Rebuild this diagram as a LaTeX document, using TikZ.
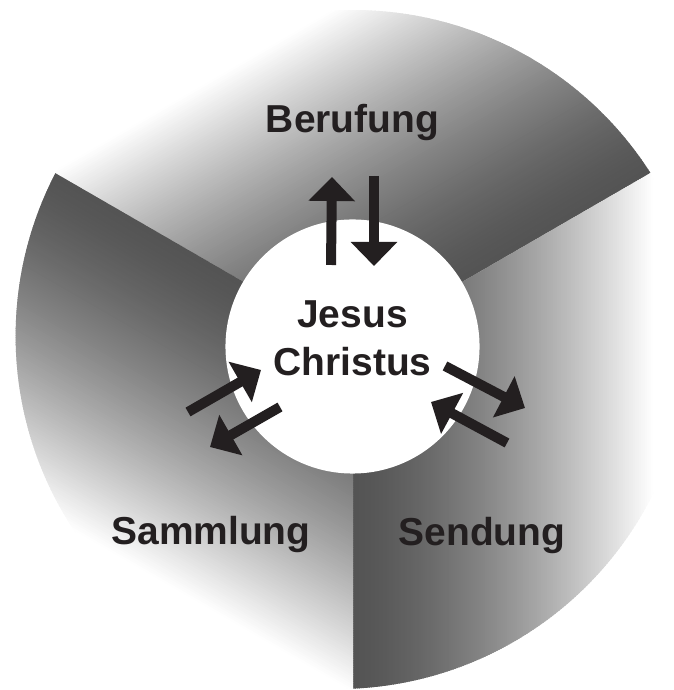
\documentclass[tikz,border=0pt]{standalone}
\usepackage{fontspec}
\setmainfont{Liberation Sans}
\usetikzlibrary{arrows.meta,calc}
\definecolor{ink}{HTML}{231F20}
\tikzset{
  label text/.style={font=\fontsize{27.7pt}{33pt}\selectfont\bfseries, text=ink, inner sep=0pt, anchor=base},
  blockarrow/.style={draw=ink, line width=0.25cm, -{Triangle[width=1.13cm, length=0.6cm]}, fill=ink}
}
\begin{document}
\begin{tikzpicture}[x=0.025cm, y=0.025cm]
\useasboundingbox (0,0) rectangle (673,690);
\clip (0,0) rectangle (673,690);
\coordinate (O) at (353,345);
% three sectors with linear gradient (dark at clockwise-start ray)
\foreach \mu in {90,-30,210}{
  \begin{scope}
    \clip (O) -- ($(O)+(\mu+180:18)+(\mu-57.5:353)$) arc[start angle=\mu-57.5, end angle=\mu+57.5, radius=353] -- cycle;
    \begin{scope}[shift={(O)}, rotate=\mu-60]
      \foreach \t in {0,2,...,356}{
        \pgfmathsetmacro\g{min(100,100*(0.33+0.67*((\t+1)/300)^1.5))}
        \fill[white!\g!black] (-400,\t) rectangle (400,\t+2.6);
      }
    \end{scope}
  \end{scope}
}
% centre
\node[circle, fill=white, inner sep=0pt, minimum size=6.35cm] (jc) at (352.5,343.5) {};
% labels
\node[label text] (jesus) at (352.5,362) {Jesus};
\node[label text] (christus) at (352.5,314.5) {Christus};
\node[label text] (berufung) at (352.5,557) {Berufung};
\node[label text] (sammlung) at (211,145) {Sammlung};
\node[label text] (sendung) at (482,144) {Sendung};
% arrow end points
\coordinate (bu1) at (331,425); \coordinate (bu2) at (332,513);
\coordinate (bd1) at (374,514); \coordinate (bd2) at (374,424);
\coordinate (so1) at (445,324); \coordinate (so2) at (525,282);
\coordinate (si1) at (507,247); \coordinate (si2) at (431,288);
\coordinate (ai1) at (188,278); \coordinate (ai2) at (261,320);
\coordinate (ao1) at (280,283); \coordinate (ao2) at (210,243);
\draw[blockarrow] (bu1) -- (bu2);
\draw[blockarrow] (bd1) -- (bd2);
\draw[blockarrow] (so1) -- (so2);
\draw[blockarrow] (si1) -- (si2);
\draw[blockarrow] (ai1) -- (ai2);
\draw[blockarrow] (ao1) -- (ao2);
\end{tikzpicture}
\end{document}
